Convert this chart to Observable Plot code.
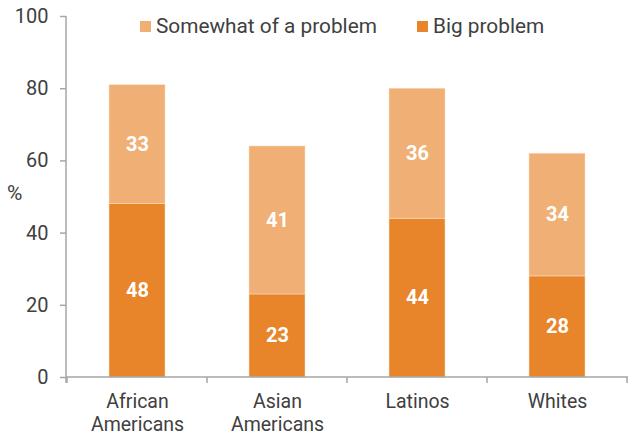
<!DOCTYPE html>
<html><head><meta charset="utf-8">
<script src="https://cdn.jsdelivr.net/npm/d3@7"></script>
<script src="https://cdn.jsdelivr.net/npm/@observablehq/plot@0.6"></script>
<style>
body{margin:0;background:#fff;}
#wrap{position:relative;width:632px;height:440px;font-family:Roboto,sans-serif;color:#404040;}
.sw{position:absolute;width:11px;height:11px;}
.lt{position:absolute;font-size:20.8px;line-height:20px;white-space:nowrap;}
#ylab{position:absolute;left:7px;top:181px;font-size:21px;}
</style></head><body><div id="wrap"></div>
<script>
const groups = ["African\nAmericans", "Asian\nAmericans", "Latinos", "Whites"];
const seriesNames = ["Big problem", "Somewhat of a problem"];
const bigProblem = [48, 23, 44, 28];
const somewhat = [33, 41, 36, 34];
const yTicks = [0, 20, 40, 60, 80, 100];
const colors = ["#E8842A", "#F0AF74"];
const legendOrder = ["Somewhat of a problem", "Big problem"];

const data = [];
groups.forEach((g, i) => {
  data.push({group: g, series: seriesNames[0], value: bigProblem[i]});
  data.push({group: g, series: seriesNames[1], value: somewhat[i]});
});

const axisColor = "#A6A6A6";

function frameLines(index, scales, values, dims) {
  const svg = d3.create("svg:g");
  const x = scales.x, y = scales.y;
  const step = x.step ? x.step() : (dims.width - dims.marginLeft - dims.marginRight) / groups.length;
  const bw = x.bandwidth();
  const y0 = y(0), yTop = y(100);
  const left = dims.marginLeft, right = dims.width - dims.marginRight;
  svg.append("line").attr("x1", left).attr("x2", left).attr("y1", yTop).attr("y2", y0 + 6)
    .attr("stroke", axisColor).attr("stroke-width", 1.5);
  svg.append("line").attr("x1", left).attr("x2", right).attr("y1", y0).attr("y2", y0)
    .attr("stroke", axisColor).attr("stroke-width", 1.5);
  const bounds = groups.map(g => x(g) + bw / 2 - step / 2);
  bounds.push(x(groups[groups.length - 1]) + bw / 2 + step / 2);
  bounds.forEach(b => {
    svg.append("line").attr("x1", b).attr("x2", b).attr("y1", y0).attr("y2", y0 + 6)
      .attr("stroke", axisColor).attr("stroke-width", 1.5);
  });
  return svg.node();
}

const chart = Plot.plot({
  width: 632,
  height: 440,
  marginLeft: 66,
  marginRight: 4,
  marginTop: 16,
  marginBottom: 63,
  style: {fontFamily: "Roboto, sans-serif", color: "#404040", background: "white"},
  x: {domain: groups, paddingInner: 0.6, paddingOuter: 0.3},
  y: {domain: [0, 100]},
  color: {domain: seriesNames, range: colors},
  marks: [
    Plot.barY(data, Plot.stackY({x: "group", y: "value", z: "series", fill: "series", order: seriesNames, stroke: "#FBE3CC", strokeWidth: 0.5})),
    Plot.text(data, Plot.stackY({x: "group", y: "value", z: "series", text: "value", order: seriesNames, fill: "white", fontWeight: "bold", fontSize: 20})),
    Plot.axisY(yTicks, {tickSize: 6, tickPadding: 12, fontSize: 20, stroke: axisColor, strokeWidth: 1.5, fill: "#404040", label: null}),
    Plot.axisX({tickSize: 0, tickPadding: 14, fontSize: 19.5, lineHeight: 1.18, fill: "#404040", label: null}),
    frameLines
  ]
});

const wrap = document.getElementById("wrap");
wrap.appendChild(chart);

const legendPos = [{sx: 140, tx: 156}, {sx: 417, tx: 433}];
legendOrder.forEach((name, i) => {
  const sw = document.createElement("div");
  sw.className = "sw";
  sw.style.left = legendPos[i].sx + "px";
  sw.style.top = "21px";
  sw.style.background = colors[seriesNames.indexOf(name)];
  wrap.appendChild(sw);
  const t = document.createElement("div");
  t.className = "lt";
  t.style.left = legendPos[i].tx + "px";
  t.style.top = "16px";
  t.textContent = name;
  wrap.appendChild(t);
});
const yl = document.createElement("div");
yl.id = "ylab";
yl.textContent = "%";
wrap.appendChild(yl);
</script>
</body></html>
